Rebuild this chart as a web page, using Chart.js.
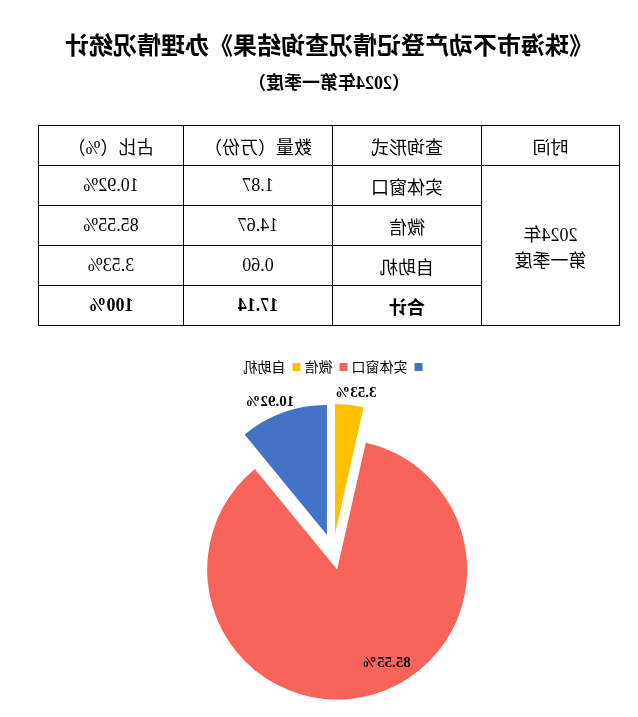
<!DOCTYPE html>
<html>
<head>
<meta charset="utf-8">
<script src="https://cdn.jsdelivr.net/npm/chart.js@4/dist/chart.umd.min.js"></script>
<style>
  html, body { margin: 0; padding: 0; background: #fff; overflow: hidden; }
  #page {
    position: relative; width: 638px; height: 717px; overflow: hidden;
    transform: scaleX(-1);
    font-family: "Liberation Serif", "Noto Sans CJK SC", serif;
    color: #000;
  }
  .title { position: absolute; left: 0; width: 618px; text-align: center; font-weight: bold; }
  #title { top: 31px; font-size: 24px; line-height: 30px; }
  #subtitle { top: 71px; font-size: 18px; line-height: 24px; }
  #stats { position: absolute; left: 18px; top: 125px; border-collapse: collapse; table-layout: fixed; width: 581px; font-size: 18px; }
  #stats td { border: 1px solid #000; text-align: center; vertical-align: middle; padding: 0; }
  #stats tr { height: 40px; }
  #stats .total td { font-weight: bold; }
  #pie { position: absolute; left: 166px; top: 356px; }
</style>
</head>
<body>
<div id="page">
  <div class="title" id="title">《珠海市不动产登记情况查询结果》办理情况统计</div>
  <div class="title" id="subtitle">（2024年第一季度）</div>
  <table id="stats">
    <colgroup><col style="width:138px"><col style="width:149px"><col style="width:149px"><col style="width:145px"></colgroup>
    <tbody id="stats-body"></tbody>
  </table>
  <canvas id="pie" width="278" height="364"></canvas>
</div>
<script>
// Data
const period = ['2024年', '第一季度'];
const headers = ['时间', '查询形式', '数量（万份）', '占比（%）'];
const queryTypes = ['实体窗口', '微信', '自助机'];
const volumes = [1.87, 14.67, 0.60];
const shares = [10.92, 85.55, 3.53];
const totalLabel = '合计';
const totalVolume = 17.14;
const totalShare = 100;
const sliceColors = ['#4472C4', '#F8645A', '#FFC000'];

// Table
const body = document.getElementById('stats-body');
let html = '<tr>' + headers.map(h => `<td>${h}</td>`).join('') + '</tr>';
queryTypes.forEach((type, i) => {
  html += '<tr>';
  if (i === 0) html += `<td rowspan="${queryTypes.length + 1}">${period.join('<br>')}</td>`;
  html += `<td>${type}</td><td>${volumes[i].toFixed(2)}</td><td>${shares[i].toFixed(2)}%</td></tr>`;
});
html += `<tr class="total"><td>${totalLabel}</td><td>${totalVolume.toFixed(2)}</td><td>${totalShare}%</td></tr>`;
body.innerHTML = html;

// Exploded slices: every arc pushed out from the centre, radius kept the same
class ExplodedArc extends Chart.ArcElement {
  draw(ctx) {
    const { x, y, startAngle, endAngle, outerRadius, options } = this;
    const mid = (startAngle + endAngle) / 2;
    const shift = options.offset || 0;
    const cx = x + Math.cos(mid) * shift;
    const cy = y + Math.sin(mid) * shift;
    ctx.save();
    ctx.beginPath();
    ctx.moveTo(cx, cy);
    ctx.arc(cx, cy, outerRadius, startAngle, endAngle);
    ctx.closePath();
    ctx.fillStyle = options.backgroundColor;
    ctx.fill();
    ctx.restore();
  }
}
ExplodedArc.id = 'explodedArc';

class ExplodedPie extends Chart.PieController {}
ExplodedPie.id = 'explodedPie';
ExplodedPie.defaults = { dataElementType: 'explodedArc' };

Chart.register(ExplodedArc, ExplodedPie);

// Percent labels around the slices
const sliceLabels = {
  id: 'sliceLabels',
  afterDatasetsDraw(chart, args, opts) {
    const ctx = chart.ctx;
    const meta = chart.getDatasetMeta(0);
    ctx.save();
    ctx.font = 'bold 15px "Liberation Serif", "Noto Sans CJK SC"';
    ctx.fillStyle = '#000';
    ctx.textAlign = 'center';
    ctx.textBaseline = 'middle';
    meta.data.forEach((arc, i) => {
      const p = opts.place[i];
      const a = (arc.startAngle + arc.endAngle) / 2 + p.turn;
      ctx.fillText(shares[i].toFixed(2) + '%', arc.x + Math.cos(a) * p.r, arc.y + Math.sin(a) * p.r);
    });
    ctx.restore();
  }
};

new Chart(document.getElementById('pie'), {
  type: 'explodedPie',
  data: {
    labels: queryTypes,
    datasets: [{
      data: shares,
      backgroundColor: sliceColors,
      borderWidth: 0,
      offset: 18,
      hoverOffset: 0
    }]
  },
  options: {
    responsive: false,
    animation: false,
    events: [],
    layout: { padding: 0 },
    plugins: {
      legend: {
        position: 'top',
        labels: {
          boxWidth: 8,
          boxHeight: 8,
          padding: 4,
          color: '#000',
          font: { size: 14, family: '"Noto Sans CJK SC", sans-serif' }
        }
      },
      tooltip: { enabled: false },
      sliceLabels: {
        place: [
          { r: 163, turn: 0.055 },
          { r: 123, turn: 0.216 },
          { r: 161, turn: -0.032 }
        ]
      }
    }
  },
  plugins: [sliceLabels]
});
</script>
</body>
</html>
